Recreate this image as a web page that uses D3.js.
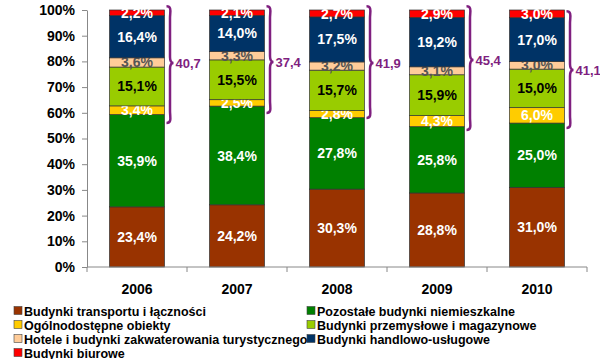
<!DOCTYPE html>
<html><head><meta charset="utf-8">
<script src="https://cdn.jsdelivr.net/npm/d3@7"></script>
<style>body{margin:0;background:#fff}svg{display:block;font-family:"Liberation Sans",Arial,sans-serif;font-weight:bold}</style>
</head><body>
<script>
const years = ["2006","2007","2008","2009","2010"];
const seriesNames = ["Budynki transportu i łączności","Pozostałe budynki niemieszkalne","Ogólnodostępne obiekty","Budynki przemysłowe i magazynowe","Hotele i budynki zakwaterowania turystycznego","Budynki handlowo-usługowe","Budynki biurowe"];
const transport = [23.4,24.2,30.3,28.8,31.0];
const pozostale = [35.9,38.4,27.8,25.8,25.0];
const ogolnodostepne = [3.4,2.5,2.8,4.3,6.0];
const przemyslowe = [15.1,15.5,15.7,15.9,15.0];
const hotele = [3.6,3.3,3.2,3.1,3.0];
const handlowe = [16.4,14.0,17.5,19.2,17.0];
const biurowe = [2.2,2.1,2.7,2.9,3.0];
const braceLabels = ["40,7","37,4","41,9","45,4","41,1"];
const braceTop = [101.5,101.5,101.5,101.5,99.5];
const braceBottom = [56.0,59.9,58.0,53.3,54.1];
const braceTip = [79.4,79.8,79.4,80.5,76.7];
const yTicks = [0,10,20,30,40,50,60,70,80,90,100];

const colors = ["#993300","#008000","#FFCC00","#99CC00","#FFCC99","#003366","#FF0000"];
const labelColors = ["#fff","#fff","#fff","#000","#555","#fff","#fff"];
const seriesValues = [transport,pozostale,ogolnodostepne,przemyslowe,hotele,handlowe,biurowe];

const W=600,H=359;
const svg=d3.select("body").append("svg").attr("width",W).attr("height",H);
const x=d3.scaleBand().domain(years).range([87,587]).paddingInner(0.45).paddingOuter(0.225);
const y=d3.scaleLinear().domain([0,100]).range([267,10]);

const rows=years.map((yr,i)=>{const o={year:yr};seriesNames.forEach((s,j)=>o[s]=seriesValues[j][i]);return o;});
const stack=d3.stack().keys(seriesNames)(rows);

// bars
const g=svg.append("g");
stack.forEach((layer,j)=>{
  g.selectAll(null).data(layer).enter().append("rect")
    .attr("x",d=>x(d.data.year)).attr("width",x.bandwidth())
    .attr("y",d=>y(d[1])).attr("height",d=>y(d[0])-y(d[1]))
    .attr("fill",colors[j]).attr("stroke","#333").attr("stroke-width",0.7);
  g.selectAll(null).data(layer).enter().append("text")
    .attr("x",d=>x(d.data.year)+x.bandwidth()/2)
    .attr("y",d=>(y(d[0])+y(d[1]))/2)
    .attr("dy","0.36em").attr("text-anchor","middle")
    .attr("font-size",14).attr("fill",labelColors[j])
    .text(d=>(d[1]-d[0]).toFixed(1).replace(".",",")+"%");
});

// axes
const ya=svg.append("g").attr("transform","translate(87,0)")
  .call(d3.axisLeft(y).tickValues(yTicks).tickFormat(d=>d+"%").tickSize(5).tickSizeOuter(0));
ya.select(".domain").attr("stroke","#888");
ya.selectAll(".tick line").attr("stroke","#888");
ya.selectAll("text").attr("font-size",14).attr("fill","#000").attr("font-family","Liberation Sans, Arial").attr("font-weight","bold").attr("x",-12);

const xa=svg.append("g").attr("transform","translate(0,267)");
xa.append("line").attr("x1",87).attr("x2",587).attr("stroke","#888");
const bounds=years.map(yr=>x(yr)-x.step()*x.paddingInner()/2).concat([587]);
xa.selectAll(null).data(bounds).enter().append("line")
  .attr("x1",d=>d).attr("x2",d=>d).attr("y1",0).attr("y2",5).attr("stroke","#888");
xa.selectAll(null).data(years).enter().append("text")
  .attr("x",d=>x(d)+x.bandwidth()/2).attr("y",27).attr("text-anchor","middle")
  .attr("font-size",14).text(d=>d);

// braces
const purple="#7F1F7F";
years.forEach((yr,i)=>{
  const x0=x(yr)+x.bandwidth()+2, w=7;
  const t=y(braceTop[i]), b=y(braceBottom[i]), m=y(braceTip[i]);
  const p=`M${x0},${t} C${x0+w*0.8},${t} ${x0+w*0.5},${t+6} ${x0+w*0.5},${t+12} L${x0+w*0.5},${m-6} C${x0+w*0.5},${m-2} ${x0+w*0.7},${m} ${x0+w},${m} C${x0+w*0.7},${m} ${x0+w*0.5},${m+2} ${x0+w*0.5},${m+6} L${x0+w*0.5},${b-12} C${x0+w*0.5},${b-6} ${x0+w*0.8},${b} ${x0},${b}`;
  svg.append("path").attr("d",p).attr("fill","none").attr("stroke",purple).attr("stroke-width",2.5);
  svg.append("text").attr("x",x0+w+2).attr("y",m).attr("dy","0.36em")
    .attr("font-size",13).attr("fill",purple).text(braceLabels[i]);
});

// legend
const leg=svg.append("g");
seriesNames.forEach((s,j)=>{
  const col=j%2,row=Math.floor(j/2);
  const lx=col===0?14:307, ly=311+row*14;
  leg.append("rect").attr("x",lx).attr("y",ly-4.5).attr("width",8).attr("height",8)
    .attr("fill",colors[j]).attr("stroke","#444").attr("stroke-width",0.6);
  leg.append("text").attr("x",lx+10).attr("y",ly).attr("dy","0.36em").attr("font-size",12.5).text(s);
});
</script>
</body></html>
